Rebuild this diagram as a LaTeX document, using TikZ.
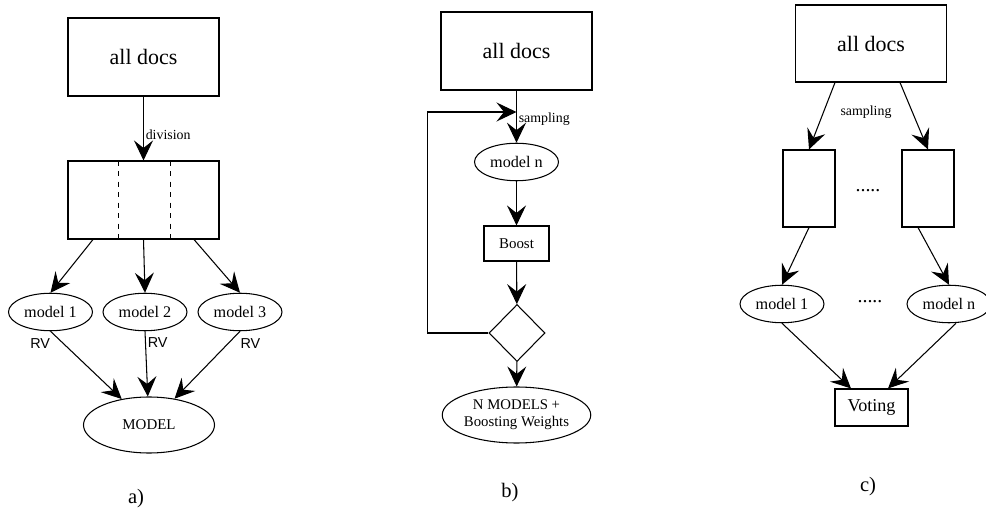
\documentclass[tikz,border=0pt]{standalone}
\usepackage{fontspec}
\setmainfont{Liberation Serif}
\newfontfamily\rvfont{Liberation Sans}
\usetikzlibrary{shapes.geometric,arrows.meta}

\begin{document}
\begin{tikzpicture}[
    line width=0.6pt,
    >={Stealth[length=0.4cm, width=0.38cm, inset=0.15cm]},
    docbox/.style={rectangle, draw, inner sep=0pt, minimum width=3.02cm, minimum height=1.56cm, font=\fontsize{12.5}{14}\selectfont},
    partbox/.style={rectangle, draw, inner sep=0pt, minimum width=1.04cm, minimum height=1.54cm},
    smallbox/.style={rectangle, draw, inner sep=0pt, font=\fontsize{9.2}{11}\selectfont},
    oval/.style={ellipse, draw, inner sep=0pt, minimum width=1.68cm, minimum height=0.75cm, font=\fontsize{9.2}{11}\selectfont},
    bigoval/.style={ellipse, draw, inner sep=0pt, minimum width=2.62cm, minimum height=1.12cm, font=\fontsize{8.4}{9.6}\selectfont, align=center},
    decide/.style={diamond, draw, inner sep=0pt, minimum width=1.12cm, minimum height=1.14cm},
    edgelabel/.style={font=\fontsize{7.9}{9}\selectfont, inner sep=1pt},
    rvlabel/.style={font=\fontsize{8.2}{9}\rvfont, inner sep=1pt},
    dots/.style={font=\fontsize{11.3}{13}\selectfont},
    caption/.style={font=\fontsize{11.7}{13}\selectfont}
  ]
    \useasboundingbox (0,0) rectangle (19.72,-10.26);

    % a) division
    \node[docbox] (docsA) at (2.87,-1.14) {all docs};
    \node[docbox] (splitA) at (2.87,-4.0) {};
    \draw[dashed] ([xshift=-0.5cm]splitA.north) -- ([xshift=-0.5cm]splitA.south);
    \draw[dashed] ([xshift=0.54cm]splitA.north) -- ([xshift=0.54cm]splitA.south);
    \node[oval] (modelA1) at (1.01,-6.24) {model 1};
    \node[oval] (modelA2) at (2.9,-6.24) {model 2};
    \node[oval] (modelA3) at (4.8,-6.24) {model 3};
    \node[bigoval, font=\fontsize{8.5}{10}\selectfont] (modelA) at (2.98,-8.5) {MODEL};
    \node[caption] (capA) at (2.72,-9.98) {a)};

    \draw[->] (docsA) -- node[edgelabel, right, pos=0.6] {division} (splitA);
    \draw[->] ([xshift=-1.01cm]splitA.south) -- (modelA1.north);
    \draw[->] (splitA.south) -- (modelA2.north);
    \draw[->] ([xshift=1.01cm]splitA.south) -- (modelA3.north);
    \draw[->] (modelA1.south) -- node[rvlabel, pos=0.18, left=0.22cm] {RV} (modelA);
    \draw[->] (modelA2.south) -- node[rvlabel, pos=0.18, right] {RV} (modelA);
    \draw[->] (modelA3.south) -- node[rvlabel, pos=0.18, right=0.2cm] {RV} (modelA);

    % b) boosting
    \node[docbox] (docsB) at (10.33,-1.02) {all docs};
    \coordinate (joinB) at (10.33,-2.24);
    \node[oval] (modelBn) at (10.33,-3.24) {model n};
    \node[smallbox, minimum width=1.3cm, minimum height=0.7cm, font=\fontsize{8.5}{10}\selectfont] (boost) at (10.33,-4.87) {Boost};
    \node[decide] (check) at (10.34,-6.66) {};
    \node[bigoval] (resultB) at (10.33,-8.3) {N MODELS +\\Boosting Weights};
    \node[caption] (capB) at (10.2,-9.86) {b)};

    \draw[->] (docsB) -- node[edgelabel, right, pos=0.5, yshift=-0.06cm] {sampling} (modelBn);
    \draw[->] (check.west) -- ++(-1.22,0) |- (joinB);
    \foreach \source/\dest in {modelBn/boost, boost/check, check/resultB}
      \draw[->] (\source) -- (\dest);

    % c) bagging
    \node[docbox, minimum height=1.54cm] (docsC) at (17.42,-0.87) {all docs};
    \node[partbox] (sampC1) at (16.18,-3.77) {};
    \node[partbox] (sampC2) at (18.56,-3.77) {};
    \node[dots] (dotsC1) at (17.36,-3.82) {.....};
    \node[edgelabel] (sampC) at (17.32,-2.24) {sampling};
    \node[oval] (modelC1) at (15.64,-6.08) {model 1};
    \node[oval] (modelCn) at (18.98,-6.08) {model n};
    \node[dots] (dotsC2) at (17.4,-6.04) {.....};
    \node[smallbox, minimum width=1.46cm, minimum height=0.74cm, font=\fontsize{10.3}{12}\selectfont] (voting) at (17.43,-8.15) {Voting};
    \node[caption] (capC) at (17.36,-9.74) {c)};

    \draw[->] ([xshift=-0.72cm]docsC.south) -- (sampC1.north);
    \draw[->] ([xshift=0.58cm]docsC.south) -- (sampC2.north);
    \draw[->] (sampC1.south) -- (modelC1.north);
    \draw[->] ([xshift=-0.2cm]sampC2.south) -- (modelCn.north);
    \draw[->] (modelC1.south) -- ([xshift=-0.41cm]voting.north);
    \draw[->] ([xshift=0.14cm]modelCn.south) -- ([xshift=0.33cm]voting.north);
  \end{tikzpicture}
\end{document}
